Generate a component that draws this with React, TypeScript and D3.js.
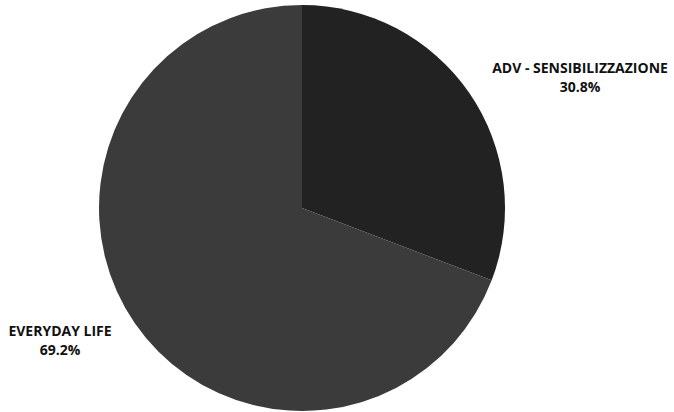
import React from "react";
import * as d3 from "d3";

const categories = ["ADV - SENSIBILIZZAZIONE", "EVERYDAY LIFE"];
const values = [30.8, 69.2];
const colors = ["#222222", "#3b3b3b"];

export default function App() {
  const W = 674, H = 412;
  const cx = 302, cy = 208, r = 203;
  const pie = d3.pie<number>().sort(null).value((d) => d)(values);
  const arc = d3.arc<d3.PieArcDatum<number>>().innerRadius(0).outerRadius(r);
  const labelPos = [
    { x: 580, y: 73 },
    { x: 60, y: 336 },
  ];
  return (
    <svg width={W} height={H} style={{ position: "absolute", left: 0, top: 0, background: "#fff" }}>
      <g transform={`translate(${cx},${cy})`}>
        {pie.map((p, i) => (
          <path key={i} d={arc(p) || ""} fill={colors[i]} />
        ))}
      </g>
      {categories.map((c, i) => (
        <text key={c} x={labelPos[i].x} y={labelPos[i].y} textAnchor="middle"
          fontFamily="'Open Sans', sans-serif" fontWeight={700} fontSize={14} fill="#111">
          <tspan x={labelPos[i].x}>{c}</tspan>
          <tspan x={labelPos[i].x} dy={19}>{values[i].toFixed(1)}%</tspan>
        </text>
      ))}
    </svg>
  );
}
